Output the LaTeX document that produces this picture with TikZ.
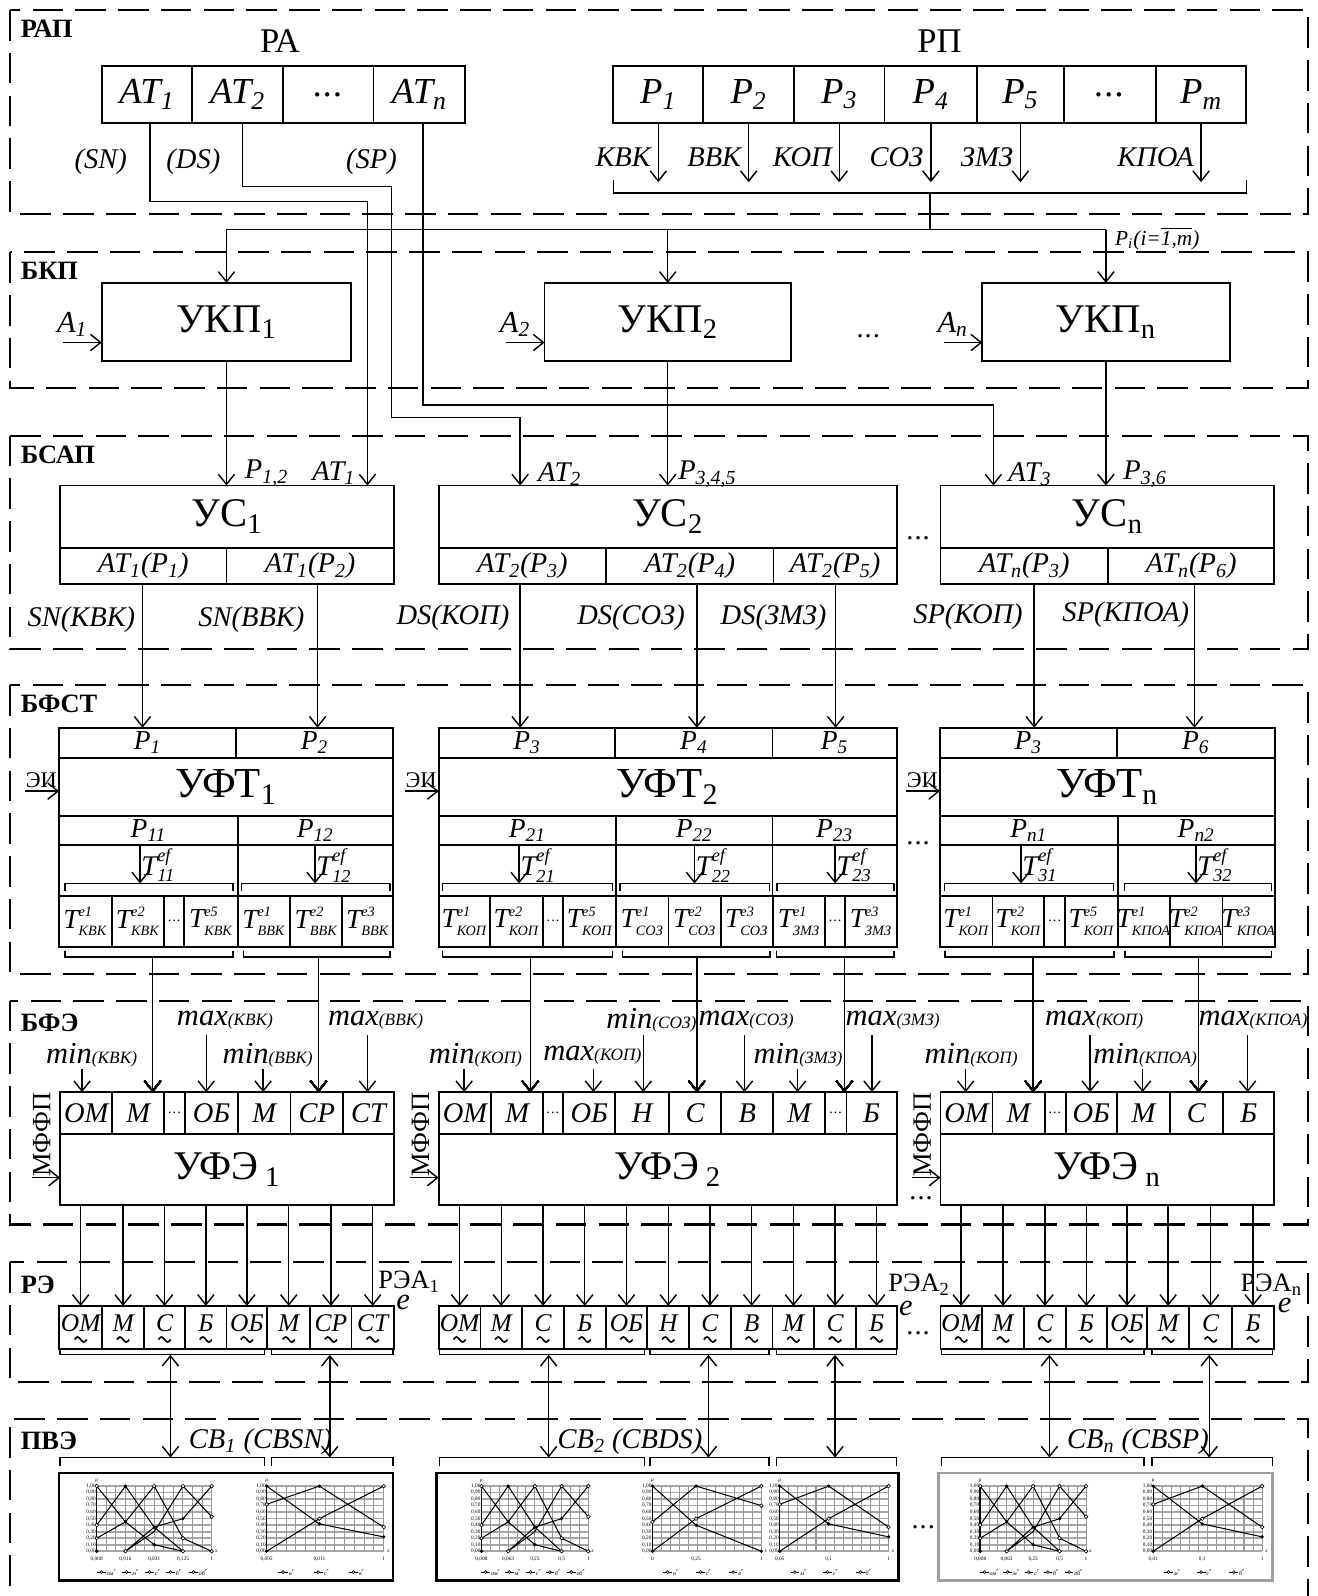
\documentclass[tikz,border=0pt]{standalone}
\usepackage{amsmath}
\usepackage{fontspec}
\setmainfont{Liberation Serif}
\usetikzlibrary{positioning, arrows.meta, calc}

\newcommand{\fs}[1]{\fontsize{#1}{#1}\selectfont}
\newcommand{\Tc}[2]{$\textit{T}^{\text{\fs{7}\itshape #1}}_{\text{\fs{7}\itshape #2}}$}
\newcommand{\Tf}[1]{$\textit{T}^{\text{\fs{9}\itshape ef}}_{\text{\fs{9}\itshape #1}}$}
\newcommand{\mlab}[2]{{\fs{15}#1}{\fs{8.5}(#2)}}
\newcommand{\dts}{.\kern0.5pt.\kern0.5pt.}
\newcommand{\sdts}{{\fs{7}\dts}}

\tikzset{
  panel/.style={draw, line width=1pt, dash pattern=on 15pt off 6pt},
  boxx/.style={draw, line width=0.9pt, inner sep=0pt, outer sep=0pt},
  conn/.style={draw, line width=0.7pt},
  blk/.style={font=\fs{13}\bfseries, anchor=west, inner sep=0pt},
  ttl/.style={font=\fs{20}},
  lbl/.style={font=\fs{14}\itshape, inner sep=0pt},
  slbl/.style={font=\fs{10.5}\itshape, inner sep=0pt},
  frm/.style={draw, line width=1.3pt},
  tiny/.style={font=\fs{2.6}, inner sep=0.3pt},
  mk/.style={line width=0.3pt, fill=white},
  tld/.style={draw, line width=0.8pt},
}

% box from corner to corner
\newcommand{\boxat}[7][]{%
  \node[boxx, minimum width={(#5-#3)*0.5pt}, minimum height={(#6-#4)*0.5pt}, #1]
    (#2) at ({(#3+#5)/2},{(#4+#6)/2}) {#7};}
% row of cells: x1/x2/text
\newcommand{\cellrow}[5][]{%
  \foreach \xa/\xb/\celltext [count=\ci] in {#5}
    \node[boxx, minimum width={(\xb-\xa)*0.5pt}, minimum height={(#4-#3)*0.5pt},
          label={[#1]center:\celltext}] (#2-\ci) at ({(\xa+\xb)/2},{(#3+#4)/2}) {};}
% tilde marks under a row of cells
\newcommand{\tilderow}[2]{%
  \foreach \ci in {1,...,#2}
    \draw[tld] ($(#1-\ci.center)+(-6,12)$) sin ++(3,-2.5) cos ++(3,2.5) sin ++(3,2.5) cos ++(3,-2.5);}
% bracket
\newcommand{\brk}[4]{\draw[conn] (#1,#3+#4) -- (#1,#3) -- (#2,#3) -- (#2,#3+#4);}
% small chart
\newcommand{\minichart}[6]{%
  \begin{scope}[shift={(#1,#2)}, x={(#3*0.5pt,0pt)}, y={(0pt,#4*0.5pt)}]
    \foreach \g in {0,...,10} \draw[gray!70, line width=0.8pt] (0,\g/10) -- (1,\g/10);
    \foreach \g in {0,...,#5} \draw[gray!80, line width=0.5pt] (\g/#5,0) -- (\g/#5,1);
    \foreach \g in {0,...,10} \node[tiny, anchor=east] at (0,\g/10) {\ifnum\g=10 1,00\else 0,\g0\fi};
    \node[tiny, anchor=south] at (0,1.04) {\itshape μ};
    \node[tiny, anchor=west] at (1.02,0) {\itshape x};
    #6
  \end{scope}}
\newcommand{\xtk}[1]{\foreach \q/\w in {#1} \node[tiny] at (\q,-0.12) {\w};}
\newcommand{\chartkey}[1]{\foreach \q/\w in {#1} {
    \draw[line width=0.4pt] (\q-0.05,-0.32) -- (\q+0.03,-0.32);
    \draw[line width=0.3pt, fill=white] (\q-0.01,-0.32) circle (0.7pt);
    \node[tiny, anchor=west, font=\fs{3}\itshape] at (\q+0.03,-0.32) {\w\textsuperscript{e}};}}
\newcommand{\linesA}{%
  \draw[line width=0.7pt] (0,0) -- (0,1);
  \draw[line width=0.5pt] (0,1) -- (0.25,0.45) -- (0.5,0.1) -- (0.75,0)
    (0,0.4) -- (0.25,1) -- (0.5,0.37) -- (0.75,0)
    (0,0.2) -- (0.25,0.45) -- (0.5,1) -- (0.75,0.2) -- (1,0)
    (0.25,0) -- (0.5,0.3) -- (0.75,1) -- (1,0.53)
    (0.25,0) -- (0.5,0.37) -- (0.75,0.5) -- (1,1);
  \foreach \px/\py in {0.25/1, 0.5/0.37, 0.75/0.5, 0.25/0.45, 0.5/0.1, 0/0}
    \fill (\px,\py) circle (0.9pt);
  \foreach \px/\py in {0/1, 0.5/1, 0.75/1, 1/1, 0/0.4, 0/0.2, 0.75/0.2, 1/0.53, 0.25/0, 0.75/0, 1/0}
    \draw[mk] (\px,\py) circle (0.9pt);}
\newcommand{\linesB}{%
  \draw[line width=0.7pt] (0,0) -- (0,1);
  \draw[line width=0.5pt] (0,1) -- (0.45,0.42) -- (1,0.22)
    (0,0.72) -- (0.45,1) -- (1,0.37)
    (0,0) -- (0.45,0.5) -- (1,1);
  \foreach \px/\py in {0/1, 0.45/1, 0.45/0.42, 1/0.22, 0/0}
    \fill (\px,\py) circle (0.9pt);
  \foreach \px/\py in {0/0.72, 0.45/0.5, 1/1, 1/0.37}
    \draw[mk] (\px,\py) circle (0.9pt);}
\newcommand{\linesC}{%
  \draw[line width=0.7pt] (0,0) -- (0,1);
  \draw[line width=0.5pt] (0,1) -- (0.4,0.4) -- (1,0)
    (0,0.45) -- (0.4,1) -- (1,0.7)
    (0,0) -- (0.4,0.5) -- (1,1);
  \foreach \px/\py in {0/1, 0.4/1, 0.4/0.4, 1/0, 0/0}
    \fill (\px,\py) circle (0.9pt);
  \foreach \px/\py in {0/0.45, 0.4/0.5, 1/1, 1/0.7}
    \draw[mk] (\px,\py) circle (0.9pt);}

\begin{document}
\begin{tikzpicture}[x=0.5pt, y=-0.5pt, >={Straight Barb[length=5pt, width=8pt]},
  every label/.style={inner sep=0pt}]
\useasboundingbox (0,0) rectangle (1294,1568);

% ---------- panels
\draw[panel] (10,10) rectangle (1285,210);
\draw[panel] (10,248) rectangle (1285,381);
\draw[panel] (10,428) rectangle (1285,638);
\draw[panel] (10,673) rectangle (1285,957);
\draw[panel] (10,983) rectangle (1285,1203);
\draw[panel] (10,1240) rectangle (1285,1358);
\draw[panel] (10,1600) -- (10,1394) -- (1285,1394) -- (1285,1600);

% ---------- РАП
\node[blk] (lrap) at (20,28) {РАП};
\node[font=\fs{17}] (ra) at (275,40) {РА};
\node[font=\fs{17}] (rp) at (923,40) {РП};
\cellrow[font=\fs{18}\itshape]{pa}{64.5}{121}{100/189/AT\textsubscript{1}, 189/278/AT\textsubscript{2}, 278/367/\dts, 367/457/AT\textsubscript{n}}
\cellrow[font=\fs{18}\itshape]{rpc}{64.5}{121}{602.5/691/P\textsubscript{1}, 691/780/P\textsubscript{2}, 780/869/P\textsubscript{3}, 869/960/P\textsubscript{4}, 960/1045/P\textsubscript{5}, 1045/1135.5/\dts, 1135.5/1224.5/P\textsubscript{m}}
\node[lbl] at (99,159) {(SN)};
\node[lbl] at (190,159) {(DS)};
\node[lbl] at (365,159) {(SP)};
\node[slbl] at (1137,234) {P\textsubscript{i}(i=$\overline{\textit{1,m}}$)};

% ---------- БКП
\node[blk] (lbkp) at (20,266) {БКП};
\boxat[ttl]{ukp1}{100}{278}{345}{355}{УКП\textsubscript{1}}
\boxat[ttl]{ukp2}{535}{278}{777}{355}{УКП\textsubscript{2}}
\boxat[ttl]{ukpn}{965}{278}{1208}{355}{УКП\textsubscript{n}}
\node[font=\fs{14}] at (853,330) {\dts};

% ---------- БСАП
\node[blk] (lbsap) at (20,447) {БСАП};
\boxat[ttl]{us1}{59}{477}{387}{538}{УС\textsubscript{1}}
\boxat[ttl]{us2}{431}{477}{881}{538}{УС\textsubscript{2}}
\boxat[ttl]{usn}{924}{477}{1252}{538}{УС\textsubscript{n}}
\cellrow[font=\fs{14}\itshape]{us1c}{538}{574}{59/222.5/AT\textsubscript{1}(P\textsubscript{1}), 222.5/387/AT\textsubscript{1}(P\textsubscript{2})}
\cellrow[font=\fs{14}\itshape]{us2c}{538}{574}{431/595.5/AT\textsubscript{2}(P\textsubscript{3}), 595.5/760/AT\textsubscript{2}(P\textsubscript{4}), 760/881/AT\textsubscript{2}(P\textsubscript{5})}
\cellrow[font=\fs{14}\itshape]{usnc}{538}{574}{924/1088.7/AT\textsubscript{n}(P\textsubscript{3}), 1088.7/1252/AT\textsubscript{n}(P\textsubscript{6})}
\node[font=\fs{14}] at (902,529) {\dts};
\node[lbl] at (262,465) {P\textsubscript{1,2}};
\node[lbl] at (328,465) {AT\textsubscript{1}};
\node[lbl] at (550,466) {AT\textsubscript{2}};
\node[lbl] at (695,466) {P\textsubscript{3,4,5}};
\node[lbl] at (1012,466) {AT\textsubscript{3}};
\node[lbl] at (1125,466) {P\textsubscript{3,6}};
\node[lbl] at (80,609) {SN(КВК)};
\node[lbl] at (247,609) {SN(ВВК)};
\node[lbl] at (445,607) {DS(КОП)};
\node[lbl] at (620,607) {DS(СОЗ)};
\node[lbl] at (760,607) {DS(ЗМЗ)};
\node[lbl] at (951,606) {SP(КОП)};
\node[lbl] at (1106,604) {SP(КПОА)};

% ---------- БФСТ
\node[blk] (lbfst) at (20,692) {БФСТ};
\cellrow[font=\fs{13.5}\itshape]{ft1p}{715}{744.5}{58/232/P\textsubscript{1}, 232/386/P\textsubscript{2}}
\boxat[font=\fs{21}]{ft1}{58}{744.5}{386}{802}{УФТ\textsubscript{1}}
\cellrow[font=\fs{13.5}\itshape]{ft1q}{802}{830}{58/233.5/P\textsubscript{11}, 233.5/386/P\textsubscript{12}}
\cellrow{ft1r}{830}{880}{58/233.5/{}, 233.5/386/{}}
\cellrow[font=\fs{13.5}]{ft1t}{880}{930}{58/109.7/\Tc{e1}{КВК}, 109.7/161.2/\Tc{e2}{КВК}, 161.2/181.1/\sdts, 181.1/233.5/\Tc{e5}{КВК}, 233.5/285/\Tc{e1}{ВВК}, 285/336.4/\Tc{e2}{ВВК}, 336.4/386/\Tc{e3}{ВВК}}

\cellrow[font=\fs{13.5}\itshape]{ft2p}{715}{744.5}{431/604.5/P\textsubscript{3}, 604.5/759/P\textsubscript{4}, 759/881/P\textsubscript{5}}
\boxat[font=\fs{21}]{ft2}{431}{744.5}{881}{802}{УФТ\textsubscript{2}}
\cellrow[font=\fs{13.5}\itshape]{ft2q}{802}{830}{431/605.3/P\textsubscript{21}, 605.3/759/P\textsubscript{22}, 759/881/P\textsubscript{23}}
\cellrow{ft2r}{830}{880}{431/605.3/{}, 605.3/759/{}, 759/881/{}}
\cellrow[font=\fs{13.5}]{ft2t}{880}{930}{431/481.5/\Tc{e1}{КОП}, 481.5/533.2/\Tc{e2}{КОП}, 533.2/553.5/\sdts, 553.5/605.3/\Tc{e5}{КОП}, 605.3/656.7/\Tc{e1}{СОЗ}, 656.7/708.1/\Tc{e2}{СОЗ}, 708.1/759.2/\Tc{e3}{СОЗ}, 759.2/810.7/\Tc{e1}{ЗМЗ}, 810.7/830.3/\sdts, 830.3/881/\Tc{e3}{ЗМЗ}}

\cellrow[font=\fs{13.5}\itshape]{ftnp}{715}{744.5}{923.5/1097.1/P\textsubscript{3}, 1097.1/1252.5/P\textsubscript{6}}
\boxat[font=\fs{21}]{ftn}{923.5}{744.5}{1252.5}{802}{УФТ\textsubscript{n}}
\cellrow[font=\fs{13.5}\itshape]{ftnq}{802}{830}{923.5/1098/P\textsubscript{n1}, 1098/1252.5/P\textsubscript{n2}}
\cellrow{ftnr}{830}{880}{923.5/1098/{}, 1098/1252.5/{}}
\cellrow[font=\fs{13.5}]{ftnt}{880}{930}{923.5/975/\Tc{e1}{КОП}, 975/1026/\Tc{e2}{КОП}, 1026/1046.4/\sdts, 1046.4/1098/\Tc{e5}{КОП}, 1098/1149.5/\Tc{e1}{КПОА}, 1149.5/1201/\Tc{e2}{КПОА}, 1201/1252.5/\Tc{e3}{КПОА}}
\node[font=\fs{14}] at (902,828) {\dts};

% ---------- БФЭ
\node[blk] (lbfe) at (20,1005) {БФЭ};
\cellrow[font=\fs{14}\itshape]{fe1c}{1073}{1114}{59/110.4/ОМ, 110.4/161.3/М, 161.3/182/\sdts, 182/233.7/ОБ, 233.7/285.4/М, 285.4/337.1/СР, 337.1/387/СТ}
\boxat[ttl]{fe1}{59}{1114}{387}{1184}{УФЭ\,\textsubscript{1}}
\cellrow[font=\fs{14}\itshape]{fe2c}{1073}{1114}{431/482.6/ОМ, 482.6/533.5/М, 533.5/553.3/\sdts, 553.3/604.6/ОБ, 604.6/657.4/Н, 657.4/708.4/С, 708.4/759.8/В, 759.8/810.8/М, 810.8/831.7/\sdts, 831.7/881/Б}
\boxat[ttl]{fe2}{431}{1114}{881}{1184}{УФЭ\,\textsubscript{2}}
\cellrow[font=\fs{14}\itshape]{fenc}{1073}{1114}{924/975/ОМ, 975/1026.4/М, 1026.4/1046.9/\sdts, 1046.9/1097.5/ОБ, 1097.5/1149.3/М, 1149.3/1201.5/С, 1201.5/1252/Б}
\boxat[ttl]{fen}{924}{1114}{1252}{1184}{УФЭ\,\textsubscript{n}}
\node[font=\fs{14}] at (905,1177) {\dts};

% ---------- РЭ
\node[blk] (lre) at (20,1262) {РЭ};
\cellrow[font=\fs{12.5}\itshape, yshift=2pt]{re1}{1283}{1325}{58/100.5/ОМ, 100.5/141.4/М, 141.4/182/С, 182/222.5/Б, 222.5/262.6/ОБ, 262.6/304.8/М, 304.8/345.3/СР, 345.3/387/СТ}
\cellrow[font=\fs{12.5}\itshape, yshift=2pt]{re2}{1283}{1325}{431/472/ОМ, 472/513/М, 513/554/С, 554/595/Б, 595/636/ОБ, 636/677/Н, 677/718/С, 718/759/В, 759/800/М, 800/841/С, 841/881.5/Б}
\cellrow[font=\fs{12.5}\itshape, yshift=2pt]{ren}{1283}{1325}{924/964.6/ОМ, 964.6/1006.3/М, 1006.3/1046.9/С, 1046.9/1087.8/Б, 1087.8/1126.7/ОБ, 1126.7/1168.5/М, 1168.5/1210.3/С, 1210.3/1252/Б}
\tilderow{re1}{8}
\tilderow{re2}{11}
\tilderow{ren}{8}
\node[font=\fs{13}] at (402,1259) {РЭА\textsubscript{1}};
\node[font=\fs{13}] at (903,1262) {РЭА\textsubscript{2}};
\node[font=\fs{13}] at (1249,1262) {РЭА\textsubscript{n}};
\foreach \x/\y in {396/1280, 890/1285, 1262/1283}
  \node[font=\fs{15}\itshape] at (\x,\y) {e};
\node[font=\fs{14}] at (902,1310) {\dts};

% ---------- ПВЭ
\node[blk] (lpve) at (20,1416) {ПВЭ};
\node[lbl] at (256,1416) {CB\textsubscript{1} (CBSN)};
\node[lbl] at (619,1416) {CB\textsubscript{2} (CBDS)};
\node[lbl] at (1118,1416) {CB\textsubscript{n} (CBSP)};
\boxat[frm]{pv1}{58}{1447}{386}{1553}{}
\boxat[frm]{pv2}{429}{1447}{883}{1553}{}
\boxat[frm, draw=gray!75]{pvn}{922}{1447}{1250}{1553}{}
\node[font=\fs{14}] at (907,1500) {\dts};
\minichart{95}{1524}{113}{64}{12}{\linesA \xtk{0/0{,}008, 0.25/0{,}016, 0.5/0{,}031, 0.75/0{,}125, 1/1} \chartkey{0.05/ом, 0.27/м, 0.47/с, 0.65/б, 0.85/об}}
\minichart{262}{1524}{115}{64}{12}{\linesB \xtk{0/0{,}005, 0.45/0{,}011, 1/1} \chartkey{0.15/н, 0.45/с, 0.75/в}}
\minichart{473}{1524}{105}{64}{12}{\linesA \xtk{0/0{,}008, 0.25/0{,}063, 0.5/0{,}25, 0.75/0{,}5, 1/1} \chartkey{0.05/ом, 0.27/м, 0.47/с, 0.65/б, 0.85/об}}
\minichart{641}{1524}{107}{64}{12}{\linesC \xtk{0/0, 0.4/0{,}25, 1/1} \chartkey{0.15/н, 0.45/с, 0.75/в}}
\minichart{766}{1524}{107}{64}{12}{\linesB \xtk{0/0{,}05, 0.45/0{,}1, 1/1} \chartkey{0.15/м, 0.45/с, 0.75/б}}
\minichart{963}{1524}{104}{64}{12}{\linesA \xtk{0/0{,}008, 0.25/0{,}063, 0.5/0{,}25, 0.75/0{,}5, 1/1} \chartkey{0.05/ом, 0.27/м, 0.47/с, 0.65/б, 0.85/об}}
\minichart{1133}{1524}{107}{64}{12}{\linesB \xtk{0/0{,}01, 0.45/0{,}1, 1/1} \chartkey{0.15/м, 0.45/с, 0.75/б}}

% ---------- connectors
\foreach \ci/\lab in {1/КВК, 2/ВВК, 3/КОП, 4/СОЗ, 5/ЗМЗ, 7/КПОА} {
  \draw[conn,->] (rpc-\ci.south) -- ++(0,58);
  \node[lbl] at ($(rpc-\ci.south)+(-7,33)$) [anchor=east] {\lab};
}
\brk{602.5}{1224.5}{189.5}{-12.5}
\coordinate (rpbr) at (913.6,189.5);
\coordinate (pbus) at (913.6,225.5);
\draw[conn] (rpbr) -- (pbus);
\draw[conn] (ukp1.north |- pbus) -- (ukpn.north |- pbus);
\foreach \u in {ukp1,ukp2,ukpn} \draw[conn,->] (\u.north |- pbus) -- (\u.north);

\draw[conn,->] ([xshift=1.5pt]pa-1.south) |- (361,198) -- (us1.north -| 361,0);
\draw[conn,->] ([xshift=2.5pt]pa-2.south) |- (384.6,183) -- (384.6,410) -| (us2.north -| 511,0);
\draw[conn,->] ([xshift=1.8pt]pa-4.south) |- (976,398) -- (usn.north -| 976,0);

\foreach \u/\ma in {ukp1/1, ukp2/2, ukpn/n} {
  \draw[conn,->] ($(\u.west)+(-38,20)$) -- ($(\u.west)+(0,20)$);
  \node[lbl, font=\fs{15}\itshape] at ($(\u.west)+(-29,2)$) {A\textsubscript{\ma}};
}
\draw[conn,->] (ukp1.south) -- (ukp1.south |- us1.north);
\draw[conn,->] (ukp2.south) -- (ukp2.south |- us2.north);
\draw[conn,->] (ukpn.south) -- (ukpn.south |- usn.north);

\foreach \c/\f/\x in {us1c-1/ft1p-1/140, us1c-2/ft1p-2/312, us2c-1/ft2p-1/511, us2c-2/ft2p-2/684.6, us2c-3/ft2p-3/821, usnc-1/ftnp-1/1016, usnc-2/ftnp-2/1173.5}
  \draw[conn,->] (\c.south -| \x,0) -- (\f.north -| \x,0);

\foreach \f in {ft1, ft2, ftn} {
  \draw[conn,->] ($(\f.west)+(-33,4)$) -- ($(\f.west)+(0,4)$);
  \node[font=\fs{11}, anchor=south west, inner sep=0pt] at ($(\f.west)+(-33,1)$) {ЭИ};
}

\foreach \x/\s in {137.6/11, 309.5/12, 510/21, 682.3/22, 820.5/23, 1003.1/31, 1175/32} {
  \draw[conn,->] (\x,830) -- (\x,868);
  \node[font=\fs{14}, inner sep=0pt, anchor=west] at (\x+1,850) {\Tf{\s}};
}
\foreach \a/\b in {64/229, 237.5/383, 435/601.7, 609.2/756, 763.2/878.5, 928/1094, 1105/1249} \brk{\a}{\b}{868}{7}
\foreach \a/\b in {64/229, 239/383, 435/601.7, 611.5/756.6, 763/878.5, 928.4/1094.5, 1105.3/1249.4} \brk{\a}{\b}{940}{-6}
\foreach \x in {150, 313, 521, 684.6, 829.6, 1015, 1177.5}
  \draw[conn,->] (\x,940) -- (fe1c-1.north -| \x,0);

\foreach \x/\y/\lx/\ly/\w/\ma in {80.6/1050/90/1037/min/КВК, 202.6/1017/221/1002/max/КВК, 258.5/1050/263/1037/min/ВВК, 361/1017/369/1002/max/ВВК, 456/1050/467/1037/min/КОП, 583/1050/582/1037/max/КОП, 632/1017/640/1002/min/СОЗ, 731.4/1017/733/1002/max/СОЗ, 783.6/1050/784/1037/min/ЗМЗ, 856.7/1017/877/1002/max/ЗМЗ, 948.7/1050/954/1037/min/КОП, 1071/1017/1075/1002/max/КОП, 1122.5/1050/1125/1037/min/КПОА, 1225.7/1017/1231/1002/max/КПОА} {
  \draw[conn,->] (\x,\y) -- (fe1c-1.north -| \x,0);
  \node[lbl] at (\lx,\ly) {\mlab{\w}{\ma}};
}

\foreach \f/\x in {fe1/41, fe2/413, fen/906} {
  \node[font=\fs{13}, rotate=90] at (\x,1115) {МФФП};
  \draw[conn,->] ($(\f.west)+(-28,8)$) -- ($(\f.west)+(0,8)$);
}

\foreach \ci in {1,...,8} \draw[conn,->] (re1-\ci.north |- fe1.south) -- (re1-\ci.north);
\foreach \ci in {1,...,11} \draw[conn,->] (re2-\ci.north |- fe2.south) -- (re2-\ci.north);
\foreach \ci in {1,...,8} \draw[conn,->] (ren-\ci.north |- fen.south) -- (ren-\ci.north);

\foreach \a/\b in {59/260, 267/386, 432/633, 638.6/755.6, 762.7/881, 925/1124, 1131.7/1250} {
  \brk{\a}{\b}{1331}{-5.5}
  \brk{\a}{\b}{1432}{8}
}
\foreach \x in {167.5, 324, 539, 696, 820.4, 1031, 1188}
  \draw[conn,<->] (\x,1331) -- (\x,1432);

\end{tikzpicture}
\end{document}
